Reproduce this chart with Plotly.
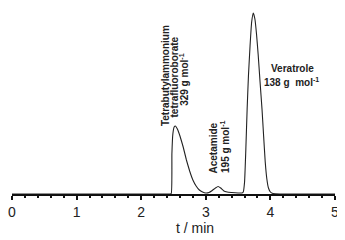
import plotly.graph_objects as go

# Chromatogram trace (time in min, detector signal in arbitrary units)
time_min = [0.0, 2.40, 2.465, 2.475, 2.49, 2.51, 2.53, 2.56, 2.60, 2.65, 2.70, 2.75, 2.80,
            2.85, 2.90, 2.95, 3.00, 3.05, 3.10, 3.15, 3.19, 3.23, 3.28, 3.33, 3.40,
            3.50, 3.56, 3.58, 3.60, 3.62, 3.64, 3.66, 3.685, 3.71, 3.735, 3.76, 3.785,
            3.81, 3.84, 3.87, 3.895, 3.92, 3.945, 3.97, 4.00, 4.04, 4.15, 5.0]
signal = [0, 0, 0.5, 40, 60, 67, 68, 65, 58, 47, 34, 23, 14,
          8, 4, 2, 1, 1.5, 3.5, 6, 7.5, 6, 3, 2, 1.5,
          1, 1, 2, 12, 45, 85, 118, 148, 172, 181, 175, 160,
          140, 112, 85, 58, 32, 15, 6, 2, 0.5, 0, 0]

x_ticks = [0, 1, 2, 3, 4, 5]
x_ticklabels = ["0", "1", "2", "3", "4", "5"]
x_title = "t / min"

peak_labels = [
    ("Tetrabutylammonium", 2.37, 118, -90),
    ("tetrafluoroborate", 2.515, 117, -90),
    ("329 g mol<sup>-1</sup>", 2.66, 114, -90),
    ("Acetamide", 3.119, 46, -90),
    ("195 g mol<sup>-1</sup>", 3.297, 47, -90),
    ("Veratrole", 4.34, 126, 0),
    ("138 g  mol<sup>-1</sup>", 4.33, 112, 0),
]

fig = go.Figure()
fig.add_trace(go.Scatter(x=time_min, y=signal, mode="lines",
                         line=dict(color="#222222", width=1.1, shape="spline", smoothing=0.3),
                         hoverinfo="skip", showlegend=False))

for text, x, y, ang in peak_labels:
    fig.add_annotation(x=x, y=y, xref="x", yref="y", text=text, textangle=ang,
                       showarrow=False, xanchor="center", yanchor="middle",
                       font=dict(family="Liberation Sans, Arial", size=10, color="#222222", weight="bold"))

fig.add_annotation(x=2.833, y=-0.183, xref="x", yref="paper", text=x_title,
                   showarrow=False, xanchor="center", yanchor="middle",
                   font=dict(family="Liberation Sans, Arial", size=14, color="#222222"))

# The page body adds an 8 px offset, so the figure is sized to the remaining area.
fig.update_layout(
    width=337, height=232,
    margin=dict(l=4, r=10, t=0, b=46),
    paper_bgcolor="white", plot_bgcolor="white",
    xaxis=dict(range=[0, 5], tickvals=x_ticks, ticktext=x_ticklabels,
               showline=True, linecolor="#111111", linewidth=2,
               ticks="outside", ticklen=4, tickwidth=1.5, tickcolor="#111111",
               minor=dict(dtick=0.2, ticks="outside", ticklen=2, tickwidth=1.5, tickcolor="#111111"),
               showgrid=False, zeroline=False,
               tickfont=dict(family="Liberation Sans, Arial", size=14, color="#222222")),
    yaxis=dict(range=[0, 186], visible=False, showgrid=False, zeroline=False),
)

fig.write_html("out.html")
